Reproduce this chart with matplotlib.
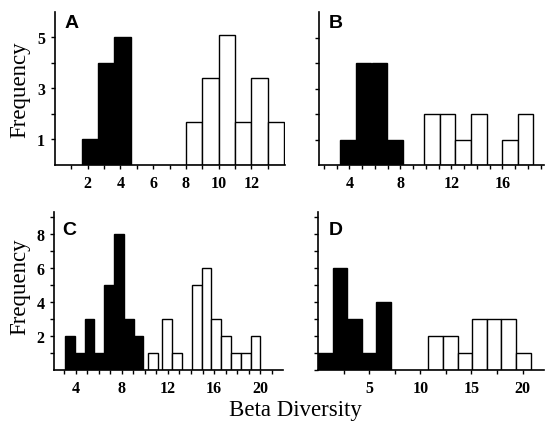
import matplotlib
matplotlib.use("Agg")
import matplotlib.pyplot as plt
from matplotlib.ticker import MultipleLocator, FixedLocator, NullFormatter

# ---- data (bar left edges, bin width, heights) ----
A_black_left = [1.63, 2.63, 3.63]
A_black_w = 1.0
A_black_h = [1, 4, 5]
A_white_left = [8, 9, 10, 11, 12, 13]
A_white_w = 1.0
A_white_h = [1.7, 3.4, 5.1, 1.7, 3.4, 1.7]

B_black_left = [3.27, 4.50, 5.74, 6.97]
B_black_w = 1.235
B_black_h = [1, 4, 4, 1]
B_white_left = [9.88, 11.10, 12.32, 13.54, 14.76, 15.98, 17.20]
B_white_w = 1.22
B_white_h = [2, 2, 1, 2, 0, 1, 2]

C_black_left = [3.08, 3.93, 4.78, 5.63, 6.48, 7.33, 8.18, 9.03]
C_black_w = 0.85
C_black_h = [2, 1, 3, 1, 5, 8, 3, 2]
C_white_left = [10.25, 11.52, 12.37, 14.07, 14.92, 15.77, 16.62, 17.47, 18.32, 19.17]
C_white_w = 0.85
C_white_h = [1, 3, 1, 5, 6, 3, 2, 1, 1, 2]

D_black_left = [0.0, 1.42, 2.84, 4.26, 5.68]
D_black_w = 1.42
D_black_h = [1, 6, 3, 1, 4]
D_white_left = [10.79, 12.22, 13.65, 15.08, 16.51, 17.94, 19.37]
D_white_w = 1.43
D_white_h = [2, 2, 1, 3, 3, 3, 1]

W, H = 545, 427
fig = plt.figure(figsize=(W / 100, H / 100), dpi=100)


def px_axes(left, right, top, bottom):
    # axes box given in picture pixels (y from top)
    return fig.add_axes([left / W, (H - bottom) / H, (right - left) / W, (bottom - top) / H])


def bars(ax, left, w, h, fc):
    ax.bar(left, h, width=w, align="edge", color=fc, edgecolor="black", linewidth=1.0)


axA = px_axes(55, 285, 13, 166)
bars(axA, A_black_left, A_black_w, A_black_h, "black")
bars(axA, A_white_left, A_white_w, A_white_h, "white")
axA.set_xlim(0, 14.05)
axA.set_ylim(0, 5.98)
axA.xaxis.set_major_locator(FixedLocator([2, 4, 6, 8, 10, 12]))
axA.xaxis.set_minor_locator(FixedLocator([1, 3, 5, 7, 9, 11, 13]))
axA.yaxis.set_major_locator(FixedLocator([1, 3, 5]))
axA.yaxis.set_minor_locator(FixedLocator([2, 4]))

axB = px_axes(319, 544, 13, 166)
bars(axB, B_black_left, B_black_w, B_black_h, "black")
bars(axB, B_white_left, B_white_w, B_white_h, "white")
axB.set_xlim(1.62, 19.26)
axB.set_ylim(0, 6.0)
axB.xaxis.set_major_locator(FixedLocator([4, 8, 12, 16]))
axB.xaxis.set_minor_locator(MultipleLocator(1))
axB.yaxis.set_major_locator(FixedLocator([1, 2, 3, 4, 5]))
axB.yaxis.set_major_formatter(NullFormatter())

axC = px_axes(54, 283, 213, 371)
bars(axC, C_black_left, C_black_w, C_black_h, "black")
bars(axC, C_white_left, C_white_w, C_white_h, "white")
axC.set_xlim(2.12, 21.98)
axC.set_ylim(0, 9.3)
axC.xaxis.set_major_locator(FixedLocator([4, 8, 12, 16, 20]))
axC.xaxis.set_minor_locator(MultipleLocator(1))
axC.yaxis.set_major_locator(FixedLocator([2, 4, 6, 8]))
axC.yaxis.set_minor_locator(FixedLocator([1, 3, 5, 7, 9]))

axD = px_axes(318, 544, 213, 371)
bars(axD, D_black_left, D_black_w, D_black_h, "black")
bars(axD, D_white_left, D_white_w, D_white_h, "white")
axD.set_xlim(0, 22.1)
axD.set_ylim(0, 9.3)
axD.xaxis.set_major_locator(FixedLocator([5, 10, 15, 20]))
axD.xaxis.set_minor_locator(FixedLocator([2.5, 7.5, 12.5, 17.5]))
axD.yaxis.set_major_locator(MultipleLocator(1))
axD.yaxis.set_major_formatter(NullFormatter())

for ax in (axA, axB, axC, axD):
    for s in ("top", "right"):
        ax.spines[s].set_visible(False)
    for s in ("left", "bottom"):
        ax.spines[s].set_linewidth(1.2)
    ax.tick_params(which="both", direction="out", length=3, width=1.0, pad=4)
    for lab in ax.get_xticklabels() + ax.get_yticklabels():
        lab.set_family("Liberation Serif")
        lab.set_fontweight("bold")
        lab.set_fontsize(11.5)

# panel letters
for x, y, t in [(65, 15, "A"), (329, 15, "B"), (62, 222, "C"), (329, 222, "D")]:
    fig.text(x / W, 1 - y / H, t, ha="left", va="top", family="Liberation Sans",
             fontweight="bold", fontsize=14)

fig.text(20 / W, 1 - 90 / H, "Frequency", rotation=90, ha="center", va="center",
         family="Liberation Serif", fontsize=16.5)
fig.text(20 / W, 1 - 287 / H, "Frequency", rotation=90, ha="center", va="center",
         family="Liberation Serif", fontsize=16.5)
fig.text(295 / W, 1 - 411 / H, "Beta Diversity", ha="center", va="center",
         family="Liberation Serif", fontsize=16.5)

fig.savefig("out.png", dpi=100)
